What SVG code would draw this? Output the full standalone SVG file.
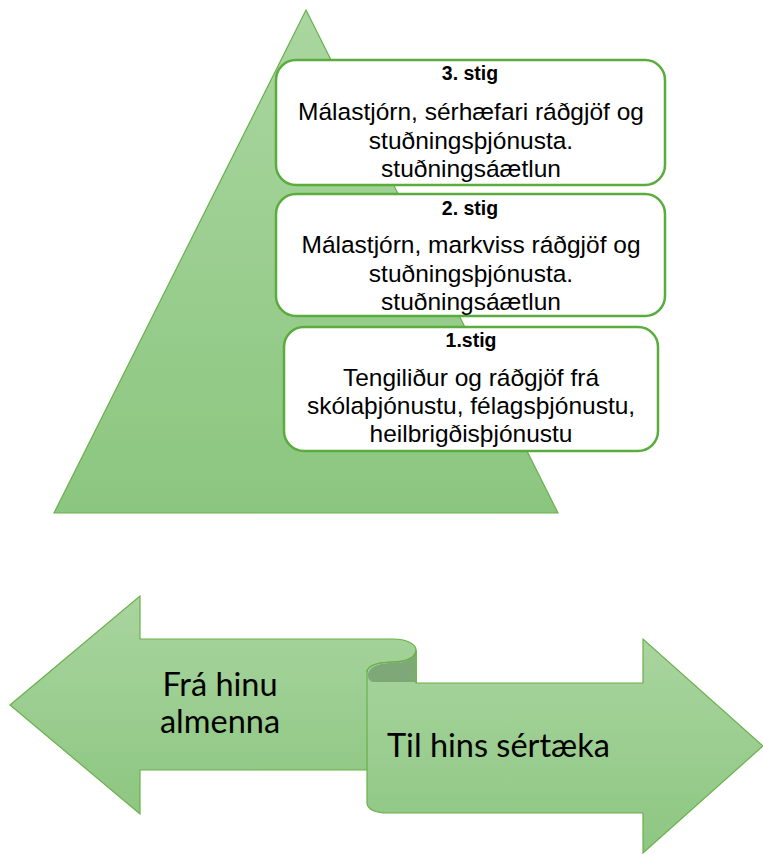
<svg xmlns="http://www.w3.org/2000/svg" width="763" height="854" viewBox="0 0 763 854">
<style>
.box{fill:#ffffff;stroke:#5aac3c;stroke-width:2.5}
.title{font-family:"Liberation Sans",Arial,sans-serif;font-weight:bold;font-size:19.5px;fill:#000;text-anchor:middle}
.body{font-family:"Liberation Sans",Arial,sans-serif;font-size:24.5px;fill:#000;text-anchor:middle}
.arr{font-family:Lato,"Open Sans",sans-serif;font-size:32.5px;fill:#000}
.shape{stroke:#6ab04c;stroke-width:1.2}
</style>
<defs>
<linearGradient id="g" x1="0" y1="0" x2="0" y2="1">
<stop offset="0" stop-color="#aad6a0"/>
<stop offset="1" stop-color="#8bc67f"/>
</linearGradient>
<linearGradient id="ga" x1="0" y1="0" x2="0" y2="1">
<stop offset="0" stop-color="#a9d59f"/>
<stop offset="1" stop-color="#8dc681"/>
</linearGradient>
</defs>
<g id="pyramid">
<polygon class="shape" points="306,10 558,513 54,513" fill="url(#g)"/>
</g>
<g id="stig3">
<rect class="box" x="276" y="60" width="389" height="125" rx="20"/>
<text class="title" x="470" y="80">3. stig</text>
<text class="body" x="471" y="120">Málastjórn, sérhæfari ráðgjöf og</text>
<text class="body" x="471" y="149">stuðningsþjónusta.</text>
<text class="body" x="471" y="177">stuðningsáætlun</text>
</g>
<g id="stig2">
<rect class="box" x="276" y="194" width="389" height="122" rx="20"/>
<text class="title" x="470" y="215">2. stig</text>
<text class="body" x="471" y="253">Málastjórn, markviss ráðgjöf og</text>
<text class="body" x="471" y="282">stuðningsþjónusta.</text>
<text class="body" x="471" y="310">stuðningsáætlun</text>
</g>
<g id="stig1">
<rect class="box" x="284" y="327" width="374" height="124" rx="20"/>
<text class="title" x="471" y="347">1.stig</text>
<text class="body" x="471" y="386">Tengiliður og ráðgjöf frá</text>
<text class="body" x="471" y="414">skólaþjónustu, félagsþjónustu,</text>
<text class="body" x="471" y="442">heilbrigðisþjónustu</text>
</g>
<g id="arrow-left">
<path class="shape" fill="url(#ga)" d="M10,705 L140,596 L140,639 L393,639 C406,639 416,644 416,650 L416,770 L140,770 L140,814 Z"/>
<text class="arr" x="220" y="696" text-anchor="middle">Frá hinu</text>
<text class="arr" x="220" y="733" text-anchor="middle">almenna</text>
</g>
<g id="arrow-right">
<path class="shape" fill="url(#ga)" d="M416,683 L643,683 L643,639 L763,746 L643,853 L643,813 L387,813 C375,813 367,809 367,803 L367,672 C367,666 377,662 393,662 C407,662 416,657 416,650 Z"/>
<path fill="#7fa878" d="M368,676 C368,667 378,663 393,663 C407,663 415,658 415,652 L415,682 L372,682 C369,680 368,678 368,676 Z"/>
<path fill="none" class="shape" d="M367,672 C367,666 377,662 393,662 C407,662 416,657 416,650 L416,683"/>
<text class="arr" x="387" y="757">Til hins sértæka</text>
</g>
</svg>
